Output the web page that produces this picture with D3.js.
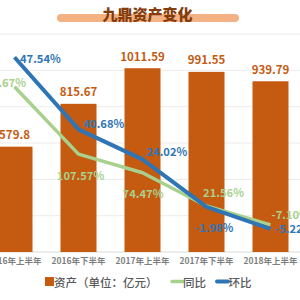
<!DOCTYPE html>
<html><head><meta charset="utf-8">
<script src="https://cdn.jsdelivr.net/npm/d3@7"></script>
<style>body{margin:0;background:#fff}svg{display:block}text{font-family:"Noto Sans CJK SC","Noto Sans",sans-serif}</style>
</head><body><div id="c"></div>
<script>
const categories = ["2016年上半年","2016年下半年","2017年上半年","2017年下半年","2018年上半年"];
const assets = [579.8, 815.67, 1011.59, 991.55, 939.79];
const assetLabels = ["579.8","815.67","1011.59","991.55","939.79"];
const yoyPlot = [31.0, -6.1, -16.4, -34.7, -45.1];
const yoyLabels = ["115.67%","107.57%","74.47%","21.56%","-7.10%"];
const momPlot = [47.2, 7.5, -9.0, -35.2, -47.3];
const momLabels = ["47.54%","40.68%","24.02%","-1.98%","-5.22%"];
const leftTicks = [0,200,400,600,800,1000,1200];

const W=300,H=300;
const svg=d3.select("#c").append("svg").attr("width",W).attr("height",H);
const x=d3.scaleBand().domain(categories).range([-17.5,302.5]).paddingInner(0.4375).paddingOuter(0.21875);
const y=d3.scaleLinear().domain([0,1200]).range([252,34]);
const y2=d3.scaleLinear().domain([-60,60]).range([252,34]);
const cx=d=>x(d)+x.bandwidth()/2;

// gridlines
svg.append("g").selectAll("line").data(leftTicks).join("line")
  .attr("x1",0).attr("x2",W).attr("y1",d=>y(d)).attr("y2",d=>y(d))
  .attr("stroke",d=>d===0?"#d9d9d9":"#ececec").attr("stroke-width",1);

// title
svg.append("rect").attr("x",57).attr("y",14).attr("width",182).attr("height",8).attr("rx",4).attr("fill","#f4b183");
svg.append("text").attr("x",147.5).attr("y",13).attr("text-anchor","middle").attr("dominant-baseline","central")
  .attr("font-size",15).attr("font-weight",900).attr("fill","#843c0c").text("九鼎资产变化");

// bars
svg.append("g").selectAll("rect").data(categories).join("rect")
  .attr("x",d=>x(d)).attr("width",x.bandwidth())
  .attr("y",(d,i)=>y(assets[i])).attr("height",(d,i)=>y(0)-y(assets[i]))
  .attr("fill","#c55a11");
svg.append("g").selectAll("text").data(categories).join("text")
  .attr("x",d=>cx(d)).attr("y",(d,i)=>y(assets[i])-12.5).attr("text-anchor","middle").attr("dominant-baseline","central")
  .attr("font-size",11.5).attr("font-weight",700).attr("fill","#c55a11").text((d,i)=>assetLabels[i]);

// x axis labels
const xa=svg.append("g").attr("transform","translate(0,252)").call(d3.axisBottom(x).tickSize(0).tickPadding(6));
xa.select(".domain").remove();
xa.selectAll("text").attr("font-size",8.5).attr("font-weight",700).attr("fill","#7f7f7f")
  .style("font-family",'"Noto Sans CJK SC",sans-serif');

// lines
const line=arr=>d3.line().x((d,i)=>cx(categories[i])).y(d=>y2(d))(arr);
svg.append("path").attr("d",line(yoyPlot)).attr("fill","none").attr("stroke","#a9d18e").attr("stroke-width",3.5).attr("stroke-linejoin","round");
svg.append("path").attr("d",line(momPlot)).attr("fill","none").attr("stroke","#2e75b6").attr("stroke-width",4).attr("stroke-linejoin","round");

// line labels: offsets
const yoyOff=[[11.5,-5,"end"],[2,21,"middle"],[0.5,20.6,"middle"],[17,-14.3,"middle"],[1,-10.7,"start"]];
const momOff=[[5.5,1,"start"],[5,-6.6,"start"],[4,-8.6,"start"],[7.7,19.7,"middle"],[4.5,-0.7,"start"]];
function labels(vals,labs,offs,color){
  svg.append("g").selectAll("text").data(vals).join("text")
    .attr("x",(d,i)=>cx(categories[i])+offs[i][0]).attr("y",(d,i)=>y2(d)+offs[i][1])
    .attr("text-anchor",(d,i)=>offs[i][2]).attr("dominant-baseline","central")
    .attr("font-size",11.2).attr("font-weight",700).attr("fill",color).text((d,i)=>labs[i]);
}
labels(yoyPlot,yoyLabels,yoyOff,"#a9d18e");
labels(momPlot,momLabels,momOff,"#2e75b6");

// legend
const lg=svg.append("g");
lg.append("rect").attr("x",45).attr("y",277).attr("width",9).attr("height",9).attr("fill","#c55a11");
lg.append("text").attr("x",54).attr("y",281.5).attr("dominant-baseline","central").attr("font-size",11.5).attr("font-weight",500).attr("fill","#595959").text("资产（单位：亿元）");
lg.append("line").attr("x1",172).attr("x2",183).attr("y1",281.5).attr("y2",281.5).attr("stroke","#a9d18e").attr("stroke-width",3.5).attr("stroke-linecap","round");
lg.append("text").attr("x",183).attr("y",281.5).attr("dominant-baseline","central").attr("font-size",11.5).attr("font-weight",500).attr("fill","#595959").text("同比");
lg.append("line").attr("x1",217).attr("x2",228).attr("y1",281.5).attr("y2",281.5).attr("stroke","#2e75b6").attr("stroke-width",4).attr("stroke-linecap","round");
lg.append("text").attr("x",228.5).attr("y",281.5).attr("dominant-baseline","central").attr("font-size",11.5).attr("font-weight",500).attr("fill","#595959").text("环比");
</script></body></html>
